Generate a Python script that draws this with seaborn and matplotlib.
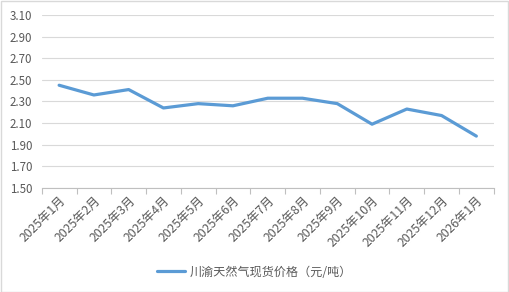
import matplotlib
matplotlib.use("Agg")
import matplotlib.pyplot as plt
import seaborn as sns
import numpy as np
import pandas as pd
from matplotlib.ticker import FixedLocator

categories = ["2025年1月", "2025年2月", "2025年3月", "2025年4月", "2025年5月", "2025年6月",
              "2025年7月", "2025年8月", "2025年9月", "2025年10月", "2025年11月", "2025年12月", "2026年1月"]
values = [2.45, 2.36, 2.41, 2.24, 2.28, 2.26, 2.33, 2.33, 2.28, 2.09, 2.23, 2.17, 1.98]
yticks = [1.50, 1.70, 1.90, 2.10, 2.30, 2.50, 2.70, 2.90, 3.10]
series_name = "川渝天然气现货价格（元/吨）"

sns.set_theme(style="white")
plt.rcParams['font.family'] = ['Noto Sans CJK SC', 'DejaVu Sans']

df = pd.DataFrame({"idx": np.arange(len(categories)), "value": values})

fig = plt.figure(figsize=(5.09, 2.92), dpi=100)
ax = fig.add_axes([0.082, 0.356, 0.888, 0.593])

sns.lineplot(data=df, x="idx", y="value", ax=ax, color="#5B9BD5", linewidth=2.3,
             label=series_name, legend=False)

ax.set_xlim(-0.5, len(categories) - 0.5)
ax.set_ylim(1.50, 3.10)
ax.set_yticks(yticks)
ax.set_yticklabels([f"{v:.2f}" for v in yticks])
ax.grid(axis="y", color="#D9D9D9", linewidth=0.8)
ax.set_axisbelow(True)
ax.set_xlabel("")
ax.set_ylabel("")

ax.set_xticks(np.arange(len(categories)))
ax.set_xticklabels(categories, rotation=45, ha="right", rotation_mode="anchor")
ax.xaxis.set_minor_locator(FixedLocator(np.arange(-0.5, len(categories), 1.0)))
ax.tick_params(axis="x", which="major", length=0, pad=4, labelsize=8.8, labelcolor="#595959")
ax.tick_params(axis="x", which="minor", length=4, color="#BFBFBF", width=0.8, direction="out", bottom=True)
ax.tick_params(axis="y", length=0, pad=7, labelsize=8.3, labelcolor="#595959")

for s in ["left", "right", "top"]:
    ax.spines[s].set_visible(False)
ax.spines["bottom"].set_color("#BFBFBF")
ax.spines["bottom"].set_linewidth(0.8)

handles, labels = ax.get_legend_handles_labels()
leg = fig.legend(handles, labels, loc="center", bbox_to_anchor=(0.5, 0.068), frameon=False,
                 fontsize=8.7, handlelength=2.3, handletextpad=0.4, labelcolor="#595959")

fig.patches.append(plt.Rectangle((0.001, 0.001), 0.997, 0.997, transform=fig.transFigure,
                                 fill=False, edgecolor="#D9D9D9", linewidth=1))

fig.savefig("out.png", dpi=100)
